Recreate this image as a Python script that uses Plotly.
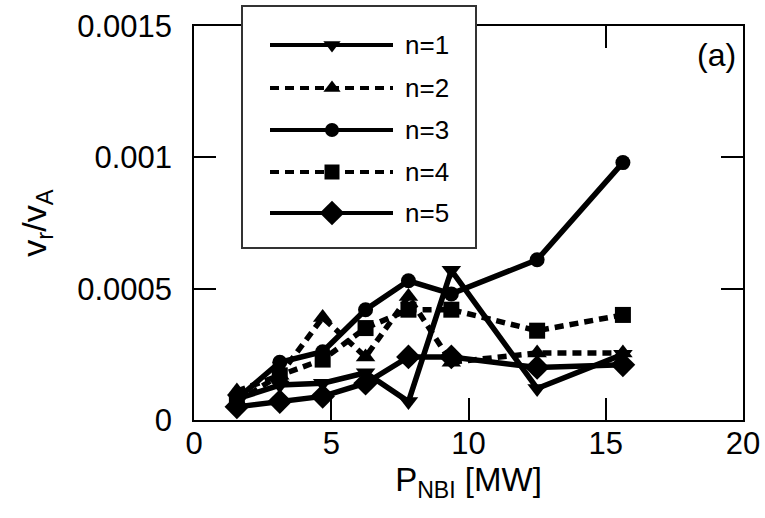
import plotly.graph_objects as go

# ---------------- data ----------------
p_nbi = [1.5625, 3.125, 4.6875, 6.25, 7.8125, 9.375, 12.5, 15.625]
n1 = [0.00008, 0.000133, 0.00014, 0.00018, 0.00007, 0.00057, 0.00012, 0.00025]
n2 = [0.00011, 0.00017, 0.00039, 0.00024, 0.00047, 0.00022, 0.000255, 0.000255]
n3 = [0.00008, 0.00022, 0.00026, 0.00042, 0.00053, 0.00048, 0.00061, 0.00098]
n4 = [0.00007, 0.00017, 0.00023, 0.00035, 0.00042, 0.00042, 0.00034, 0.0004]
n5 = [0.00005, 0.00007, 0.00009, 0.00014, 0.00024, 0.00024, 0.0002, 0.00021]

series_names = ["n=1", "n=2", "n=3", "n=4", "n=5"]
series_values = [n1, n2, n3, n4, n5]

x_ticks = [0, 5, 10, 15, 20]
y_tickvals = [0, 0.0005, 0.001, 0.0015]
y_ticktext = ["0", "0.0005", "0.001", "0.0015"]

# ---------------- styles ----------------
symbols = ["triangle-down", "triangle-up", "circle", "square", "diamond"]
sizes = [17, 17, 15, 16, 19]
dashes = ["solid", "9px,6px", "solid", "9px,6px", "solid"]
FONT = "Liberation Sans, Arial, sans-serif"

W, H = 765, 518
L, R, T, B = 194, 22, 7, 98
plot_top_px = 26
paper_h = H - T - B
paper_w = W - L - R

fig = go.Figure()

for name, vals, sym, sz, dsh in zip(series_names, series_values, symbols, sizes, dashes):
    fig.add_trace(go.Scatter(
        x=p_nbi, y=vals, name=name, mode="lines+markers",
        line=dict(color="black", width=5.5, dash=dsh),
        marker=dict(symbol=sym, size=sz, color="black"),
        showlegend=False, xaxis="x", yaxis="y",
    ))

# ---------------- custom legend on its own overlay axes ----------------
box_x0, box_x1, box_y0, box_y1 = 243, 475, 7, 247   # pixels
box_w, box_h = box_x1 - box_x0, box_y1 - box_y0
item_y = [38, 81, 123, 165, 206]
line_x0, line_x1, mark_x, text_x = 27, 150, 89, 160
legend_sizes = [15, 15, 14, 15, 19]

fig.add_trace(go.Scatter(
    x=[0, box_w, box_w, 0, 0], y=[0, 0, box_h, box_h, 0],
    fill="toself", fillcolor="white", mode="lines", line=dict(width=0, color="white"),
    showlegend=False, hoverinfo="skip", xaxis="x2", yaxis="y2",
))
for name, yy, sym, sz, dsh in zip(series_names, item_y, symbols, legend_sizes, dashes):
    fig.add_trace(go.Scatter(
        x=[line_x0, line_x1], y=[yy, yy], mode="lines",
        line=dict(color="black", width=4, dash=dsh),
        showlegend=False, hoverinfo="skip", xaxis="x2", yaxis="y2",
    ))
    fig.add_trace(go.Scatter(
        x=[mark_x], y=[yy], mode="markers",
        marker=dict(symbol=sym, size=sz, color="black"),
        showlegend=False, hoverinfo="skip", xaxis="x2", yaxis="y2",
    ))
    fig.add_annotation(x=text_x, y=yy, xref="x2", yref="y2", text=name,
                       showarrow=False, xanchor="left", yanchor="middle",
                       font=dict(family=FONT, size=26, color="black"))

fig.add_annotation(x=19.8, y=0.00139, xref="x", yref="y", text="(a)",
                   showarrow=False, xanchor="right", yanchor="middle",
                   font=dict(family=FONT, size=32, color="black"))

axis_common = dict(showgrid=False, zeroline=False, showline=True, linecolor="black",
                   linewidth=1.5, ticks="inside", ticklen=22, tickwidth=1.5,
                   tickcolor="black", mirror="ticks",
                   tickfont=dict(family=FONT, size=31, color="black"))

fig.update_layout(
    width=W, height=H, margin=dict(l=L, r=R, t=T, b=B, autoexpand=False),
    paper_bgcolor="white", plot_bgcolor="white", showlegend=False,
    xaxis=dict(range=[0, 20], tickvals=x_ticks, ticklabelstandoff=-5, anchor="y",
               title=dict(text="P<sub>NBI</sub> [MW]", standoff=4,
                          font=dict(family=FONT, size=33, color="black")),
               **axis_common),
    yaxis=dict(range=[0, 0.0015], tickvals=y_tickvals, ticktext=y_ticktext,
               domain=[0, (H - B - plot_top_px) / paper_h], ticklabelstandoff=14,
               anchor="x",
               title=dict(text="v<sub>r</sub>/v<sub>A</sub>", standoff=20,
                          font=dict(family=FONT, size=34, color="black")),
               **axis_common),
    xaxis2=dict(domain=[(box_x0 - L) / paper_w, (box_x1 - L) / paper_w],
                range=[0, box_w], anchor="y2", showgrid=False, zeroline=False,
                showline=True, mirror=True, linecolor="#333", linewidth=1.5,
                showticklabels=False, ticks="", fixedrange=True),
    yaxis2=dict(domain=[(H - B - box_y1) / paper_h, 1],
                range=[box_h, 0], anchor="x2", showgrid=False, zeroline=False,
                showline=True, mirror=True, linecolor="#333", linewidth=1.5,
                showticklabels=False, ticks="", fixedrange=True),
)

fig.write_html("out.html")
